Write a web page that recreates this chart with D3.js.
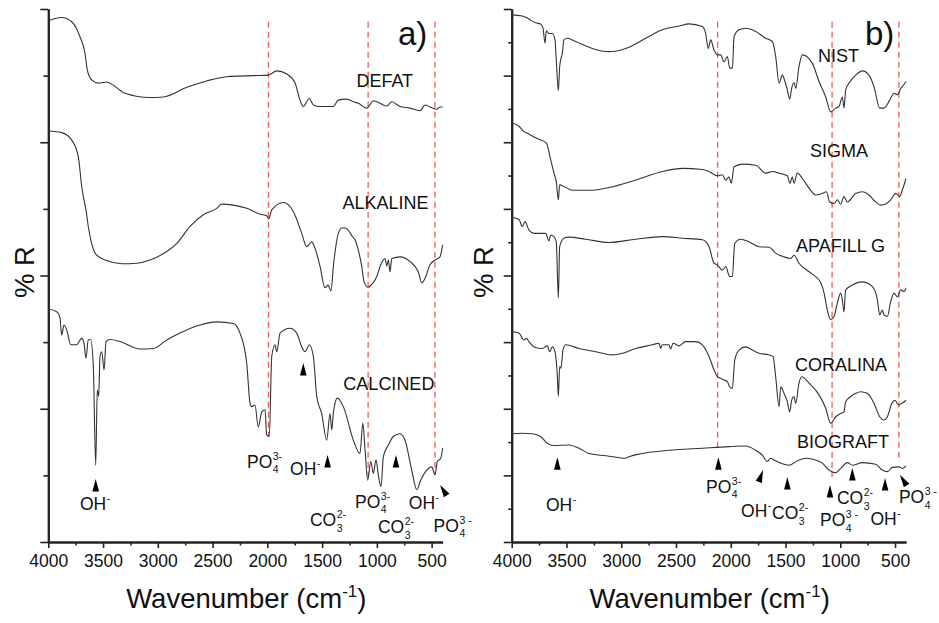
<!DOCTYPE html>
<html>
<head>
<meta charset="utf-8">
<script src="https://cdn.jsdelivr.net/npm/d3@7"></script>
<style>
  body { margin: 0; background: #fff; }
  svg { display: block; font-family: "Liberation Sans", Arial, sans-serif; }
</style>
</head>
<body>
<script>
// spectra as [wavenumber, %R] (arbitrary offset units, 0-100 per panel)
const defat = [[4000,97.8],[3878,98.4],[3786,97.6],[3711,94.8],[3665,91.7],[3644,88.6],[3604,86.7],[3543,86.1],[3467,86.3],[3406,85.7],[3300,84.2],[3071,83.4],[2950,83.5],[2736,85.3],[2554,86.5],[2371,87.3],[2128,87.5],[1991,87.6],[1914,88.4],[1823,87.8],[1747,86.1],[1702,82.9],[1672,81.7],[1617,83.2],[1580,82.0],[1519,81.7],[1398,81.7],[1352,82.9],[1275,83.1],[1215,82.6],[1169,82.3],[1093,81.4],[1032,82.8],[971,82.3],[910,81.8],[864,82.6],[789,81.7],[697,81.4],[606,80.9],[560,82.0],[515,81.6],[454,81.2],[424,81.6],[400,81.6]];

const alkaline = [[4000,77.1],[3878,76.8],[3786,75.4],[3726,72.3],[3695,66.7],[3680,64.8],[3656,62.3],[3635,59.2],[3604,56.0],[3558,53.8],[3467,52.8],[3330,52.2],[3193,52.3],[3071,52.9],[2919,54.5],[2828,56.0],[2706,59.2],[2585,61.4],[2462,62.6],[2417,63.4],[2311,63.2],[2188,62.6],[2067,61.5],[2006,61.2],[1988,60.6],[1960,62.3],[1854,63.7],[1763,62.0],[1686,57.9],[1641,55.4],[1595,56.3],[1565,55.1],[1519,51.7],[1474,47.7],[1446,48.2],[1419,47.1],[1396,52.0],[1373,55.7],[1352,57.9],[1318,58.9],[1291,58.9],[1254,58.3],[1227,57.4],[1200,56.7],[1170,54.8],[1138,51.7],[1117,48.8],[1081,47.8],[1044,48.4],[1001,49.8],[971,51.7],[925,53.2],[910,51.8],[895,52.9],[880,50.7],[864,53.2],[788,53.5],[697,52.6],[622,50.7],[590,48.6],[560,49.5],[515,52.0],[469,52.9],[424,53.5],[400,55.7]];

const calcined = [[4000,43.7],[3923,43.2],[3893,42.0],[3878,38.8],[3857,40.7],[3832,39.8],[3795,37.0],[3741,37.0],[3695,38.2],[3674,37.3],[3656,34.5],[3635,37.9],[3613,38.0],[3589,32.9],[3567,14.4],[3553,28.5],[3540,27.3],[3528,34.8],[3512,35.7],[3491,32.3],[3473,37.6],[3437,38.0],[3345,37.6],[3163,36.2],[3041,36.3],[2919,37.9],[2797,39.2],[2615,40.7],[2462,41.3],[2311,41.0],[2250,39.2],[2188,33.5],[2158,26.0],[2143,25.4],[2113,25.7],[2083,21.6],[2051,24.4],[2021,24.8],[2006,20.1],[1982,19.8],[1960,34.8],[1930,37.0],[1914,35.7],[1884,39.2],[1793,40.1],[1732,39.2],[1686,36.6],[1656,35.7],[1617,37.0],[1580,34.8],[1549,27.3],[1504,24.1],[1458,19.1],[1428,24.1],[1412,21.0],[1398,24.1],[1361,27.0],[1306,25.4],[1215,19.1],[1154,16.6],[1129,22.3],[1108,17.3],[1084,11.6],[1056,15.1],[1032,12.9],[1008,15.4],[987,12.6],[962,10.4],[941,16.0],[895,18.2],[850,19.8],[789,20.3],[743,19.1],[682,13.5],[636,9.8],[600,11.6],[545,13.5],[499,14.1],[469,12.6],[448,15.1],[417,15.7],[400,17.6]];

const nist = [[4000,98.9],[3903,98.7],[3857,98.3],[3827,97.9],[3781,97.4],[3736,97.2],[3714,96.4],[3696,93.6],[3684,95.9],[3660,95.4],[3629,95.4],[3605,94.2],[3593,90.4],[3574,84.7],[3562,89.2],[3550,90.7],[3538,91.7],[3523,94.2],[3492,94.5],[3416,93.9],[3264,92.6],[3112,92.0],[2959,92.6],[2777,94.5],[2625,96.1],[2472,96.8],[2381,97.2],[2259,96.7],[2229,95.4],[2205,92.6],[2183,94.2],[2153,92.3],[2122,91.4],[2092,91.4],[2062,90.1],[2031,91.1],[2010,88.9],[1985,88.9],[1970,94.8],[1925,96.1],[1864,96.4],[1772,95.8],[1681,94.5],[1620,93.9],[1590,91.1],[1559,86.1],[1529,87.6],[1505,86.4],[1483,84.8],[1462,83.1],[1444,85.1],[1422,86.2],[1407,85.1],[1377,89.2],[1346,91.4],[1255,89.8],[1194,86.4],[1133,83.5],[1088,80.7],[1042,81.4],[1012,81.7],[981,83.5],[966,81.4],[951,84.8],[920,86.1],[859,87.6],[798,88.4],[738,87.6],[692,85.4],[640,81.4],[600,81.4],[549,82.9],[509,84.2],[479,83.9],[448,85.1],[424,85.7],[400,86.4]];

const sigma = [[4000,78.6],[3933,78.0],[3888,77.0],[3857,76.7],[3796,76.0],[3736,75.4],[3684,74.9],[3644,71.7],[3614,69.2],[3593,67.6],[3574,64.2],[3562,67.0],[3523,66.7],[3446,66.0],[3264,66.0],[3112,66.5],[2868,67.9],[2625,69.5],[2442,70.1],[2259,69.9],[2198,69.5],[2122,68.7],[2077,68.9],[2046,67.9],[2016,68.5],[1995,67.3],[1970,70.4],[1894,70.9],[1772,70.7],[1681,69.2],[1620,69.5],[1559,69.2],[1483,68.7],[1459,67.3],[1438,68.5],[1422,67.3],[1392,69.2],[1346,68.2],[1285,66.4],[1225,65.1],[1164,65.4],[1127,65.7],[1097,63.8],[1057,63.5],[1027,64.2],[997,63.4],[966,64.8],[936,63.8],[859,65.4],[798,65.7],[738,65.1],[677,63.8],[631,63.2],[585,63.4],[540,64.2],[494,65.4],[458,64.8],[434,66.0],[400,68.2]];

const apafill = [[4000,60.9],[3933,60.5],[3903,59.2],[3879,60.1],[3842,58.5],[3796,57.9],[3751,57.9],[3690,57.9],[3660,56.5],[3644,57.6],[3614,57.3],[3593,56.3],[3574,45.8],[3562,55.4],[3523,57.0],[3477,57.2],[3325,56.8],[3112,56.2],[2868,56.8],[2625,57.3],[2442,57.0],[2259,56.7],[2198,55.4],[2153,52.3],[2122,52.0],[2077,51.0],[2046,51.7],[2010,49.8],[1985,49.8],[1964,56.0],[1909,56.8],[1833,56.3],[1742,55.4],[1650,55.3],[1590,54.2],[1514,53.5],[1453,53.2],[1422,53.8],[1377,52.3],[1285,50.7],[1209,49.5],[1194,49.2],[1148,46.7],[1118,43.5],[1088,41.7],[1057,42.3],[1027,44.8],[997,46.7],[981,45.4],[966,43.2],[951,47.3],[890,48.2],[798,48.8],[707,47.9],[661,45.4],[640,42.6],[616,43.5],[600,42.6],[570,42.3],[540,45.1],[509,46.7],[479,46.0],[448,47.3],[418,47.0],[400,47.6]];

const coralina = [[4000,39.5],[3933,39.2],[3888,37.9],[3866,38.2],[3842,37.6],[3796,36.6],[3720,36.3],[3675,36.8],[3653,35.7],[3629,36.6],[3605,35.7],[3583,31.0],[3574,27.3],[3562,32.9],[3550,32.6],[3532,36.0],[3507,37.0],[3385,36.3],[3233,35.7],[3081,35.1],[2990,35.4],[2868,36.3],[2716,37.0],[2655,37.3],[2640,36.3],[2625,37.0],[2564,37.0],[2549,36.2],[2527,37.3],[2472,36.8],[2411,37.6],[2320,37.6],[2259,37.0],[2198,34.8],[2153,32.3],[2122,31.0],[2092,30.7],[2062,30.4],[2031,30.1],[2010,29.1],[1985,28.8],[1964,34.1],[1925,36.0],[1864,36.6],[1803,36.0],[1742,35.4],[1650,35.1],[1614,34.8],[1590,31.0],[1559,25.4],[1544,29.1],[1514,27.9],[1483,26.3],[1462,24.4],[1444,26.6],[1422,27.3],[1407,26.0],[1377,29.8],[1352,31.0],[1285,29.8],[1194,27.6],[1133,25.1],[1088,22.3],[1042,23.5],[997,24.1],[966,24.4],[951,26.3],[905,27.3],[859,27.9],[814,28.2],[753,27.9],[692,26.0],[640,23.5],[600,22.9],[570,23.5],[530,26.0],[500,26.6],[470,25.7],[439,26.0],[400,26.6]];

const biograft = [[4000,20.3],[3903,20.4],[3812,20.3],[3736,19.8],[3675,18.5],[3614,18.1],[3477,18.2],[3385,17.6],[3294,16.6],[3112,16.1],[2959,15.7],[2929,16.0],[2807,16.6],[2564,17.2],[2259,17.6],[2016,17.9],[1864,18.0],[1772,17.2],[1712,16.3],[1666,15.1],[1635,15.7],[1605,15.4],[1544,14.8],[1468,14.4],[1377,15.4],[1316,15.7],[1225,15.4],[1164,14.8],[1103,13.5],[1042,13.0],[997,13.8],[936,14.9],[890,14.4],[798,14.9],[677,14.6],[616,13.5],[570,13.2],[525,14.0],[464,14.1],[433,13.8],[400,14.3]];

// series name labels: [name, wavenumber at text start, %R at baseline]
const namesA = [["DEFAT",1187,85.4],["ALKALINE",1315,62.5],["CALCINED",1306,28.5]];
const namesB = [["NIST",1204,90.1],["SIGMA",1277,72.2],["APAFILL G",1404,54.4],["CORALINA",1413,32.1],["BIOGRAFT",1396,17.6]];

// red dashed guide lines: wavenumber, lower end (%R)
const guideA = [[1990,19.7],[1080,12.0],[470,12.9]];
const guideB = [[2120,17.6],[1075,12.2],[465,15.0]];
const guideTop = 97.6;

// band markers (triangle apex) [wavenumber, %R, tilt]
const marksA = [[3567,11.8,0],[1672,33.6,0],[1450,16.3,0],[826,16.3,0],[423,10.7,-32]];
const marksB = [[3583,15.9,0],[2113,15.9,0],[1705,13.5,20],[1483,12.2,0],[1094,10.7,0],[890,13.9,0],[591,12.0,0],[455,12.6,-32]];

// ion labels [base, subscript, superscript, wavenumber, %R baseline]
const ionsA = [["OH","","-",3711,6.0],["PO","4","3-",2186,13.9],["OH","","-",1793,12.6],["CO","3","2-",1611,3.0],
  ["PO","4","3-",1200,6.4],["CO","3","2-",990,1.6],["OH","","-",708,6.2],["PO","4","3 -",482,1.9]];
const ionsB = [["OH","","-",3687,5.8],["PO","4","3-",2226,9.2],["OH","","-",1906,4.7],["CO","3","2-",1623,4.3],
  ["PO","4","3 -",1185,3.0],["CO","3","2-",1030,7.1],["OH","","-",725,3.2],["PO","4","3 -",465,7.3]];

const xMajor = [4000,3500,3000,2500,2000,1500,1000,500];
const xMinor = [3750,3250,2750,2250,1750,1250,750];

const svg = d3.select("body").append("svg").attr("width", 939).attr("height", 623);

function drawPanel(p) {
  const x = d3.scaleLinear().domain([4000, 400]).range([p.left, p.left + 394.3]);
  const y = d3.scaleLinear().domain([0, 100]).range([542, 9]);
  const g = svg.append("g");

  // axes
  g.append("g").attr("transform", "translate(0,542)")
    .call(d3.axisBottom(x).tickValues(xMinor).tickSize(3.5).tickSizeOuter(0).tickFormat(""));
  g.append("g").attr("class", "xmaj").attr("transform", "translate(0,542)")
    .call(d3.axisBottom(x).tickValues(xMajor).tickSize(6).tickSizeOuter(0).tickPadding(7).tickFormat(d3.format("d")));
  g.append("g").attr("transform", `translate(${p.left},0)`)
    .call(d3.axisLeft(y).tickValues(p.yMinor).tickSize(p.minorLen).tickSizeOuter(0).tickFormat(""));
  g.append("g").attr("transform", `translate(${p.left},0)`)
    .call(d3.axisLeft(y).tickValues(p.yMajor).tickSize(8).tickSizeOuter(0).tickFormat(""));

  g.selectAll(".domain").attr("stroke", "#222").attr("stroke-width", 2);
  g.selectAll(".tick line").attr("stroke", "#222").attr("stroke-width", 1.6);
  g.selectAll(".xmaj text").attr("font-size", 17.5).attr("fill", "#111")
    .attr("font-family", '"Liberation Sans", Arial, sans-serif');

  // red dashed guides
  g.selectAll(".guide").data(p.guides).join("line")
    .attr("x1", d => x(d[0])).attr("x2", d => x(d[0]))
    .attr("y1", y(guideTop)).attr("y2", d => y(d[1]))
    .attr("stroke", "#f0413f").attr("stroke-opacity", 0.85)
    .attr("stroke-width", 1.3).attr("stroke-dasharray", "6,4");

  // spectra
  const line = d3.line().x(d => x(d[0])).y(d => y(d[1])).curve(d3.curveMonotoneX);
  p.series.forEach(s => {
    g.append("path").datum(s).attr("fill", "none")
      .attr("stroke", "#333").attr("stroke-width", 1.1).attr("d", line);
  });

  // series names
  g.selectAll(".name").data(p.names).join("text")
    .attr("x", d => x(d[1])).attr("y", d => y(d[2]))
    .attr("font-size", 18).attr("fill", "#111").text(d => d[0]);

  // markers
  g.selectAll(".mark").data(p.marks).join("path")
    .attr("d", "M0,0L3.3,12.5L-3.3,12.5Z")
    .attr("fill", "#000")
    .attr("transform", d => `translate(${x(d[0])},${y(d[1])}) rotate(${d[2]})`);

  // ion labels
  p.ions.forEach(d => {
    const tx = x(d[3]), ty = y(d[4]);
    const t = g.append("text").attr("x", tx).attr("y", ty)
      .attr("font-size", 17.5).attr("fill", "#111").text(d[0]);
    const w = t.node().getComputedTextLength();
    if (d[1]) g.append("text").attr("x", tx + w + 0.5).attr("y", ty + 5.5)
      .attr("font-size", 10.5).attr("fill", "#111").text(d[1]);
    g.append("text").attr("x", tx + w + 0.5).attr("y", ty - 8)
      .attr("font-size", 10.5).attr("fill", "#111").text(d[2]);
  });

  // axis titles
  const xt = g.append("text").attr("x", p.left + 198).attr("y", 608)
    .attr("text-anchor", "middle").attr("font-size", 27.5).attr("fill", "#111");
  xt.append("tspan").text("Wavenumber (cm");
  xt.append("tspan").attr("font-size", 17).attr("dy", -11).text("-1");
  xt.append("tspan").attr("dy", 11).text(")");

  g.append("text").attr("transform", `translate(${p.ytitleX},272) rotate(-90)`)
    .attr("text-anchor", "middle").attr("font-size", 27.5).attr("fill", "#111").text("% R");

  g.append("text").attr("x", p.tagX).attr("y", 45)
    .attr("font-size", 33).attr("fill", "#111").text(p.tag);
}

drawPanel({
  left: 48.3, series: [defat, alkaline, calcined], names: namesA, guides: guideA,
  marks: marksA, ions: ionsA, yMajor: [0,25,50,75,100], yMinor: [12.5,37.5,62.5,87.5], minorLen: 5,
  ytitleX: 33.5, tag: "a)", tagX: 398
});

drawPanel({
  left: 511.7, series: [nist, sigma, apafill, coralina, biograft], names: namesB, guides: guideB,
  marks: marksB, ions: ionsB, yMajor: [0,12.5,25,37.5,50,62.5,75,87.5,100],
  yMinor: [6.25,18.75,31.25,43.75,56.25,68.75,81.25,93.75], minorLen: 3.5,
  ytitleX: 493, tag: "b)", tagX: 865
});
</script>
</body>
</html>
